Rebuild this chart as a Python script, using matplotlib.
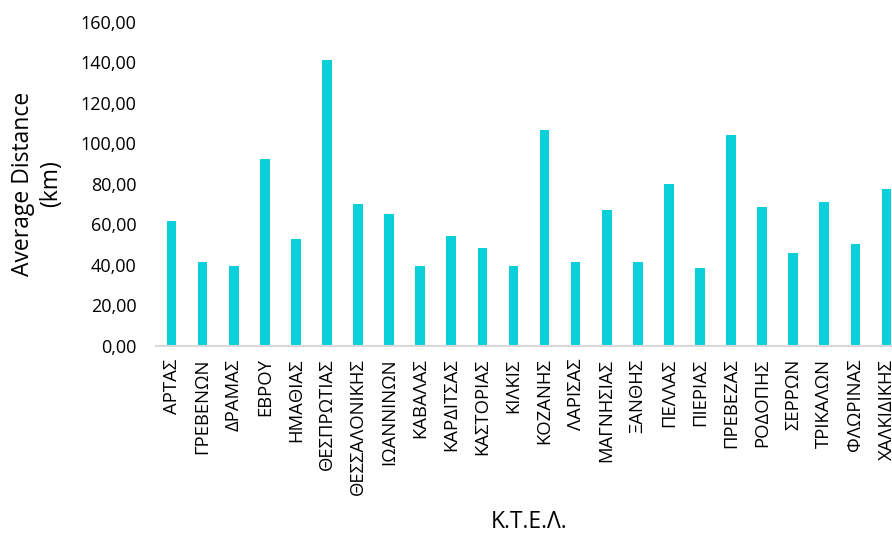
import matplotlib.pyplot as plt
from matplotlib.ticker import FuncFormatter

plt.rcParams['font.family'] = ['Open Sans', 'DejaVu Sans']

# K.T.E.L. and average distance (km)
ktel = ["ΑΡΤΑΣ", "ΓΡΕΒΕΝΩΝ", "ΔΡΑΜΑΣ", "ΕΒΡΟΥ", "ΗΜΑΘΙΑΣ", "ΘΕΣΠΡΩΤΙΑΣ",
        "ΘΕΣΣΑΛΟΝΙΚΗΣ", "ΙΩΑΝΝΙΝΩΝ", "ΚΑΒΑΛΑΣ", "ΚΑΡΔΙΤΣΑΣ", "ΚΑΣΤΟΡΙΑΣ",
        "ΚΙΛΚΙΣ", "ΚΟΖΑΝΗΣ", "ΛΑΡΙΣΑΣ", "ΜΑΓΝΗΣΙΑΣ", "ΞΑΝΘΗΣ", "ΠΕΛΛΑΣ",
        "ΠΙΕΡΙΑΣ", "ΠΡΕΒΕΖΑΣ", "ΡΟΔΟΠΗΣ", "ΣΕΡΡΩΝ", "ΤΡΙΚΑΛΩΝ", "ΦΛΩΡΙΝΑΣ",
        "ΧΑΛΚΙΔΙΚΗΣ"]
avg_distance = [61.7, 41.6, 39.4, 92.3, 52.8, 141.0, 70.0, 65.3, 39.4, 54.3,
                48.6, 39.4, 106.7, 41.5, 67.2, 41.4, 80.0, 38.3, 104.0, 68.4,
                46.1, 71.2, 50.4, 77.4]
y_ticks = [0, 20, 40, 60, 80, 100, 120, 140, 160]

fig = plt.figure(figsize=(8.92, 5.34), dpi=100)
# axes runs past the right edge of the figure, like the original crop
ax = fig.add_axes([156 / 892, 188 / 534, 746 / 892, 324 / 534])

x = range(len(ktel))
ax.bar(x, avg_distance, width=0.31, color="#0bcfd9")

ax.set_xlim(-0.5, len(ktel) - 0.5)
ax.set_ylim(0, 160)
ax.set_yticks(y_ticks)
ax.yaxis.set_major_formatter(FuncFormatter(lambda v, p: f"{v:.2f}".replace(".", ",")))
ax.set_xticks(list(x))
ax.set_xticklabels(ktel, rotation=90)

for s in ["top", "right", "left"]:
    ax.spines[s].set_visible(False)
ax.spines["bottom"].set_color("#d9d9d9")
ax.spines["bottom"].set_linewidth(1.5)
ax.tick_params(axis="both", length=0, colors="#000000")
ax.tick_params(axis="x", labelsize=13.3, pad=9)
ax.tick_params(axis="y", labelsize=13, pad=14)

ax.set_ylabel("Average Distance\n(km)", fontsize=16.5, linespacing=1.25)
ax.yaxis.set_label_coords(-0.124, 0.5)
fig.text(529 / 892, 1 - 522 / 534, "Κ.Τ.Ε.Λ.", fontsize=16.5, ha="center", va="center")

fig.savefig("out.png", dpi=100)
